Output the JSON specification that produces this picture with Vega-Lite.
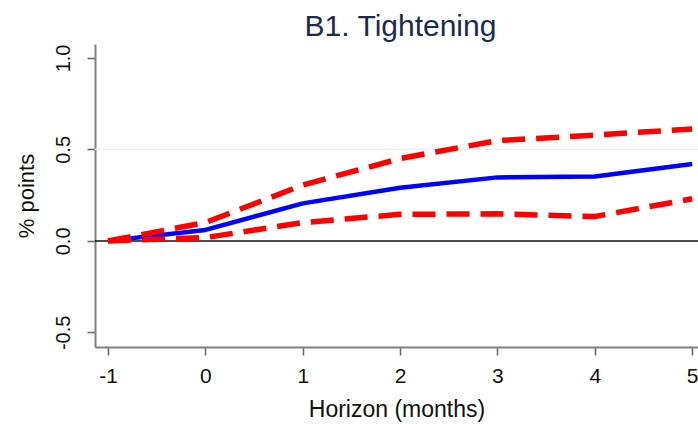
{
  "$schema": "https://vega.github.io/schema/vega-lite/v6.json",
  "width": 603,
  "height": 303,
  "autosize": {"type": "none"},
  "padding": {"left": 95, "top": 44, "right": 0, "bottom": 77},
  "background": "white",
  "title": {
    "text": "B1. Tightening",
    "font": "Liberation Sans",
    "fontSize": 30,
    "fontWeight": "normal",
    "color": "#1c2b4c",
    "anchor": "middle",
    "frame": "group",
    "baseline": "alphabetic",
    "offset": -22,
    "dx": 4
  },
  "config": {
    "view": {"stroke": null},
    "font": "Liberation Sans"
  },
  "datasets": {
    "irf": [
      {"h": -1, "series": "estimate", "v": 0.0},
      {"h": 0, "series": "estimate", "v": 0.06},
      {"h": 1, "series": "estimate", "v": 0.205},
      {"h": 2, "series": "estimate", "v": 0.29},
      {"h": 3, "series": "estimate", "v": 0.347},
      {"h": 4, "series": "estimate", "v": 0.352},
      {"h": 5, "series": "estimate", "v": 0.42},
      {"h": -1, "series": "upper", "v": 0.0},
      {"h": 0, "series": "upper", "v": 0.1},
      {"h": 1, "series": "upper", "v": 0.305},
      {"h": 2, "series": "upper", "v": 0.45},
      {"h": 3, "series": "upper", "v": 0.548},
      {"h": 4, "series": "upper", "v": 0.578},
      {"h": 5, "series": "upper", "v": 0.612},
      {"h": -1, "series": "lower", "v": 0.0},
      {"h": 0, "series": "lower", "v": 0.018},
      {"h": 1, "series": "lower", "v": 0.1},
      {"h": 2, "series": "lower", "v": 0.145},
      {"h": 3, "series": "lower", "v": 0.148},
      {"h": 4, "series": "lower", "v": 0.133},
      {"h": 5, "series": "lower", "v": 0.23}
    ],
    "refs": [
      {"kind": "grid", "y": 0.5},
      {"kind": "zero", "y": 0.0}
    ]
  },
  "layer": [
    {
      "data": {"name": "refs"},
      "transform": [{"filter": "datum.kind === 'grid'"}],
      "mark": {"type": "rule", "color": "#e8eef1", "strokeWidth": 1.2},
      "encoding": {
        "y": {"field": "y", "type": "quantitative", "scale": {"domain": [-0.58, 1.076], "nice": false, "zero": false}}
      }
    },
    {
      "data": {"name": "refs"},
      "transform": [{"filter": "datum.kind === 'zero'"}],
      "mark": {"type": "rule", "color": "#111111", "strokeWidth": 1.5},
      "encoding": {
        "y": {"field": "y", "type": "quantitative"}
      }
    },
    {
      "data": {"name": "irf"},
      "transform": [{"filter": "datum.series === 'estimate'"}],
      "mark": {"type": "line", "color": "#0000ff", "strokeWidth": 4.5, "strokeJoin": "round"},
      "encoding": {
        "x": {
          "field": "h", "type": "quantitative",
          "scale": {"domain": [-1.134, 5.06], "nice": false, "zero": false},
          "axis": {
            "values": [-1, 0, 1, 2, 3, 4, 5],
            "format": "d",
            "title": "Horizon (months)",
            "titleFont": "Liberation Sans",
            "titleFontSize": 23,
            "titleFontWeight": "normal",
            "titleColor": "#111111",
            "titleBaseline": "alphabetic",
            "titleY": 69,
            "labelFont": "Liberation Sans",
            "labelFontSize": 21,
            "labelColor": "#111111",
            "labelExpr": "replace(format(datum.value, 'd'), '−', '-')",
            "labelPadding": 10,
            "labelFlush": false,
            "labelOverlap": false,
            "tickSize": 8,
            "tickColor": "#666666",
            "tickWidth": 1.5,
            "domainColor": "#808080",
            "domainWidth": 2,
            "grid": false
          }
        },
        "y": {
          "field": "v", "type": "quantitative",
          "scale": {"domain": [-0.58, 1.076], "nice": false, "zero": false},
          "axis": {
            "values": [-0.5, 0, 0.5, 1],
            "format": ".1f",
            "title": "% points",
            "titleFont": "Liberation Sans",
            "titleFontSize": 22,
            "titleFontWeight": "normal",
            "titleColor": "#111111",
            "titleAngle": 270,
            "titleAlign": "center",
            "titleBaseline": "bottom",
            "titleX": -57,
            "titleY": 151.5,
            "labelFont": "Liberation Sans",
            "labelFontSize": 20,
            "labelColor": "#111111",
            "labelAngle": 270,
            "labelAlign": "center",
            "labelBaseline": "bottom",
            "labelExpr": "replace(format(datum.value, '.1f'), '−', '-')",
            "labelPadding": 14,
            "labelFlush": false,
            "labelOverlap": false,
            "tickSize": 8,
            "tickColor": "#666666",
            "tickWidth": 1.5,
            "domainColor": "#808080",
            "domainWidth": 2,
            "grid": false
          }
        }
      }
    },
    {
      "data": {"name": "irf"},
      "transform": [{"filter": "datum.series !== 'estimate'"}],
      "mark": {"type": "line", "color": "#ff0000", "strokeWidth": 5.5, "strokeDash": [23, 11], "strokeCap": "butt"},
      "encoding": {
        "x": {"field": "h", "type": "quantitative"},
        "y": {"field": "v", "type": "quantitative"},
        "detail": {"field": "series"}
      }
    }
  ]
}
